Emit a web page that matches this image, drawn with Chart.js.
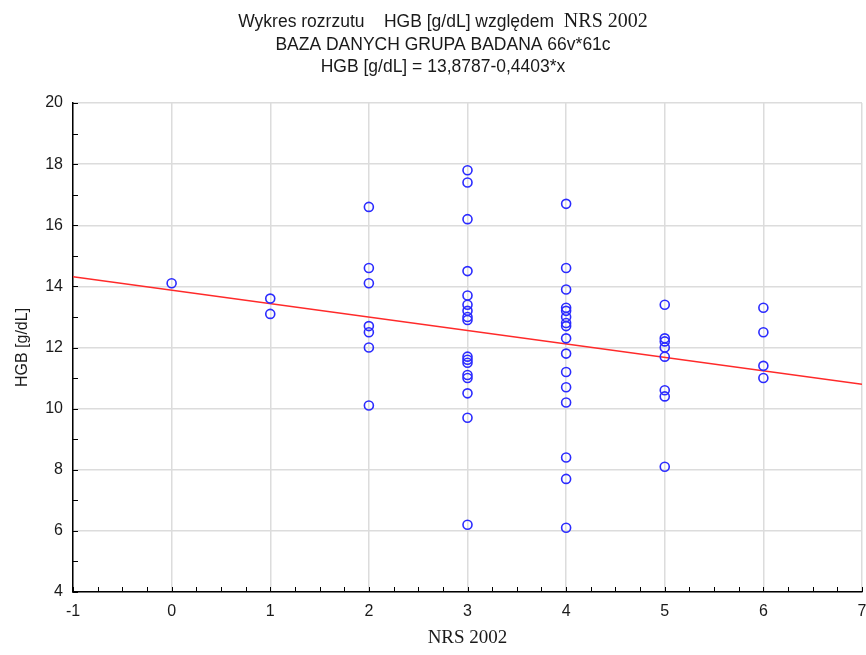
<!DOCTYPE html>
<html>
<head>
<meta charset="utf-8">
<script src="https://cdn.jsdelivr.net/npm/chart.js@4/dist/chart.umd.min.js"></script>
<style>
  html, body { margin: 0; padding: 0; background: #ffffff; overflow: hidden; }
  #wrap { width: 866px; height: 655px; }
</style>
</head>
<body>
<div id="wrap"><canvas id="c" width="866" height="655"></canvas></div>
<script>
// ---- Data ----
const nrsValues = [0, 1, 2, 3, 4, 5, 6];
const hgbAt0 = [14.1];
const hgbAt1 = [13.6, 13.1];
const hgbAt2 = [16.6, 14.6, 14.1, 12.7, 12.5, 12.0, 10.1];
const hgbAt3 = [17.8, 17.4, 16.2, 14.5, 13.7, 13.4, 13.2, 13.0, 12.9, 11.7, 11.6, 11.5, 11.1, 11.0, 10.5, 9.7, 6.2];
const hgbAt4 = [16.7, 14.6, 13.9, 13.3, 13.2, 13.0, 12.8, 12.7, 12.3, 11.8, 11.2, 10.7, 10.2, 8.4, 7.7, 6.1];
const hgbAt5 = [13.4, 12.3, 12.2, 12.0, 11.7, 10.6, 10.4, 8.1];
const hgbAt6 = [13.3, 12.5, 11.4, 11.0];
const hgbGroups = [hgbAt0, hgbAt1, hgbAt2, hgbAt3, hgbAt4, hgbAt5, hgbAt6];

// regression from the chart subtitle
const regIntercept = 13.8787;
const regSlope = -0.4403;
const xRange = [-1, 7];
const yRange = [4, 20];
const xTickStep = 1;
const yTickStep = 2;

const titleLines = [
  ['Wykres rozrzutu    HGB [g/dL] względem  ', 'NRS 2002'],
  ['BAZA DANYCH GRUPA BADANA 66v*61c'],
  ['HGB [g/dL] = 13,8787-0,4403*x']
];
const xTitle = 'NRS 2002';
const yTitle = 'HGB [g/dL]';

// build point table
const points = [];
nrsValues.forEach((nrs, i) => {
  hgbGroups[i].forEach(v => points.push({ x: nrs, y: v }));
});
const regLine = xRange.map(x => ({ x: x, y: regIntercept + regSlope * x }));

const SANS = "'Liberation Sans Narrow', 'Liberation Sans', Arial, sans-serif";
const SERIF = "'Liberation Serif', 'Times New Roman', serif";

const titlePlugin = {
  id: 'mixedTitle',
  afterDraw(chart) {
    const ctx = chart.ctx;
    const cx = 443;
    const ys = [22, 45, 67];
    ctx.save();
    ctx.fillStyle = '#1a1a1a';
    ctx.textBaseline = 'middle';
    titleLines.forEach((parts, li) => {
      const fonts = parts.map((p, pi) => (li === 0 && pi === 1) ? ('20px ' + SERIF) : ('17.5px ' + SANS));
      let total = 0;
      const widths = parts.map((p, pi) => { ctx.font = fonts[pi]; const w = ctx.measureText(p).width; total += w; return w; });
      let x = cx - total / 2;
      ctx.textAlign = 'left';
      parts.forEach((p, pi) => {
        ctx.font = fonts[pi];
        ctx.fillText(p, x, ys[li]);
        x += widths[pi];
      });
    });
    ctx.restore();
  }
};

const minorTicksPlugin = {
  id: 'minorTicks',
  afterDatasetsDraw(chart) {
    const ctx = chart.ctx;
    const a = chart.chartArea;
    const xs = chart.scales.x, ys = chart.scales.y;
    ctx.save();
    ctx.strokeStyle = '#000';
    ctx.lineWidth = 1;
    ctx.beginPath();
    for (let v = yRange[0]; v <= yRange[1]; v += 1) {
      const py = Math.round(ys.getPixelForValue(v)) + 0.5;
      ctx.moveTo(a.left, py); ctx.lineTo(a.left + 5, py);
    }
    for (let v = xRange[0]; v <= xRange[1] + 1e-9; v += 0.25) {
      const px = Math.round(xs.getPixelForValue(v)) + 0.5;
      ctx.moveTo(px, a.bottom); ctx.lineTo(px, a.bottom - 5);
    }
    ctx.stroke();
    ctx.restore();
  }
};

new Chart(document.getElementById('c'), {
  type: 'scatter',
  data: {
    datasets: [
      {
        type: 'line',
        data: regLine,
        borderColor: '#ff2a2a',
        borderWidth: 1.5,
        pointRadius: 0,
        fill: false,
        order: 2
      },
      {
        data: points,
        pointStyle: 'circle',
        pointRadius: 4.5,
        pointBorderWidth: 1.6,
        pointBorderColor: '#2b2bff',
        pointBackgroundColor: 'rgba(255,255,255,0)',
        showLine: false,
        order: 1
      }
    ]
  },
  options: {
    responsive: false,
    animation: false,
    layout: { autoPadding: false, padding: { top: 103, right: 4, left: 0, bottom: 0 } },
    plugins: {
      legend: { display: false },
      tooltip: { enabled: false },
      title: { display: false }
    },
    scales: {
      x: {
        type: 'linear',
        min: xRange[0], max: xRange[1],
        ticks: { stepSize: xTickStep, color: '#1a1a1a', font: { family: SANS, size: 16 }, padding: 10 },
        grid: { color: '#dcdcdc', lineWidth: 1.5, drawTicks: false },
        border: { color: '#000', width: 1.5 },
        title: { display: true, text: xTitle, color: '#1a1a1a', font: { family: SERIF, size: 19 }, padding: { top: 4, bottom: 6 } },
        afterFit(s) { s.height = 63; s.paddingLeft = 0; s.paddingRight = 0; }
      },
      y: {
        type: 'linear',
        min: yRange[0], max: yRange[1],
        ticks: { stepSize: yTickStep, color: '#1a1a1a', font: { family: SANS, size: 16 }, padding: 10 },
        grid: { color: '#dcdcdc', lineWidth: 1.5, drawTicks: false },
        border: { color: '#000', width: 1.5 },
        title: { display: true, text: yTitle, color: '#1a1a1a', font: { family: SANS, size: 16 }, padding: { top: 13, bottom: 0 } },
        afterFit(s) { s.width = 73; s.paddingTop = 0; s.paddingBottom = 0; }
      }
    }
  },
  plugins: [titlePlugin, minorTicksPlugin]
});
</script>
</body>
</html>
